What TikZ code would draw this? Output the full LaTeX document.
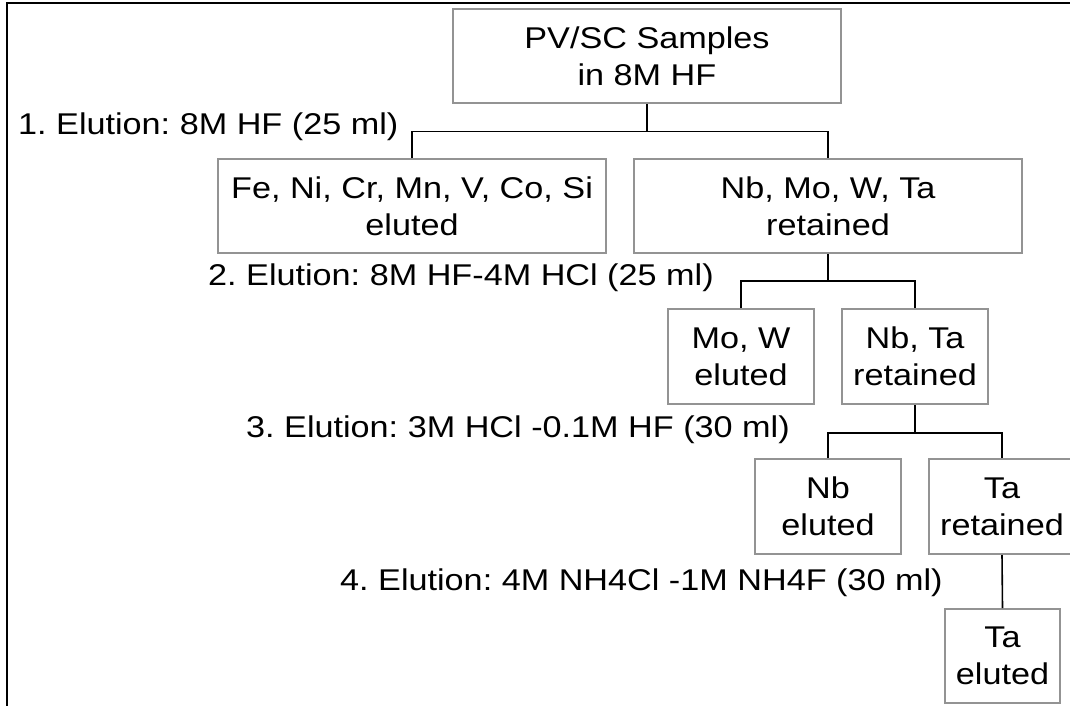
\documentclass[tikz,border=0pt]{standalone}
\usepackage{fontspec}
\setmainfont{Liberation Sans}[FakeStretch=1.14]
\frenchspacing
\usetikzlibrary{positioning}
\tikzset{
  box/.style={draw=gray!85,line width=2pt,align=center,inner sep=0pt,font=\fontsize{30}{37}\selectfont},
  wide/.style={box,minimum width=388pt,minimum height=94pt},
  narrow/.style={box,minimum width=146pt,minimum height=95pt},
  elution/.style={anchor=base west,inner sep=0pt,font=\fontsize{30}{37}\selectfont},
  link/.style={line width=1.6pt}
}
\begin{document}
\begin{tikzpicture}[x=1pt,y=1pt]
  \useasboundingbox (0,0) rectangle (1070,-706);
  \clip (0,0) rectangle (1070,-706);
  \draw[line width=2pt] (7,-706) -- (7,-3) -- (1070,-3);
  % boxes
  \node[wide] (samples) at (647,-56.5) {PV/SC Samples\\in 8M HF};
  \node[wide] (elutedA) at (412,-206) {Fe, Ni, Cr, Mn, V, Co, Si\\eluted};
  \node[wide] (retainedA) at (828,-206) {Nb, Mo, W, Ta\\retained};
  \node[narrow] (elutedB) at (741,-356.5) {Mo, W\\eluted};
  \node[narrow] (retainedB) at (915,-356.5) {Nb, Ta\\retained};
  \node[narrow] (elutedC) at (828,-506.5) {Nb\\eluted};
  \node[narrow] (retainedC) at (1002,-506.5) {Ta\\retained};
  \node[box,minimum width=115pt,minimum height=94pt] (elutedD) at (1002.5,-656) {Ta\\eluted};
  % elution steps
  \node[elution] (stepA) at (18,-135) {1. Elution: 8M HF (25 ml)};
  \node[elution] (stepB) at (208,-285) {2. Elution: 8M HF-4M HCl (25 ml)};
  \node[elution] (stepC) at (246,-437) {3. Elution: 3M HCl -0.1M HF (30 ml)};
  \node[elution] (stepD) at (340,-590) {4. Elution: 4M NH4Cl -1M NH4F (30 ml)};
  % connectors
  \coordinate[below=27pt of samples] (splitA);
  \coordinate[below=27pt of retainedA] (splitB);
  \coordinate[below=28pt of retainedB] (splitC);
  \draw[link] (samples.south) -- (splitA);
  \draw[link] (elutedA.north) |- (splitA) -| (retainedA.north);
  \draw[link] (retainedA.south) -- (splitB);
  \draw[link] (elutedB.north) |- (splitB) -| (retainedB.north);
  \draw[link] (retainedB.south) -- (splitC);
  \draw[link] (elutedC.north) |- (splitC) -| (retainedC.north);
  \draw[link] (retainedC.south) -- (elutedD.north);
\end{tikzpicture}
\end{document}
